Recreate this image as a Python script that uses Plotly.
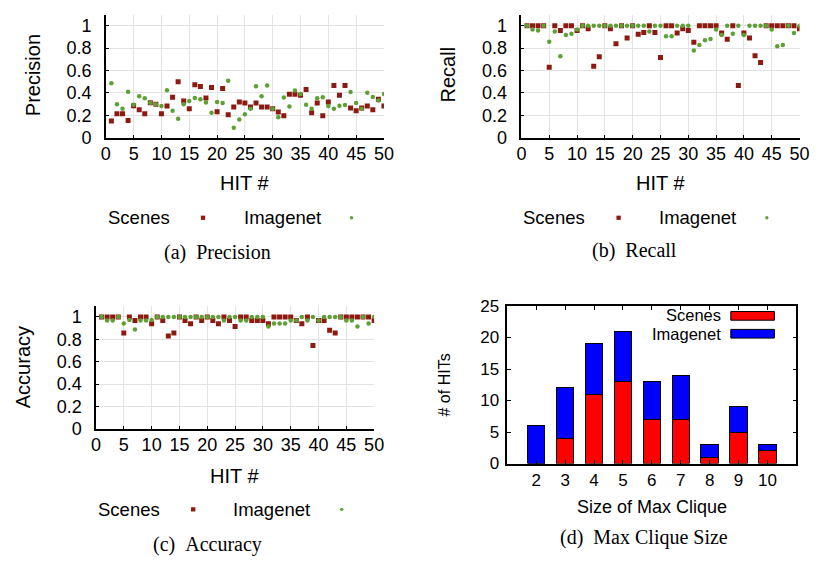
import plotly.graph_objects as go

W, H = 822, 567

hit = list(range(1, 51))

prec_scenes = [0.15, 0.215, 0.215, 0.155, 0.287, 0.25, 0.215, 0.313, 0.30, 0.215,
               0.285, 0.362, 0.50, 0.328, 0.259, 0.474, 0.457, 0.356, 0.448, 0.233,
               0.44, 0.207, 0.276, 0.319, 0.31, 0.276, 0.31, 0.276, 0.276, 0.259,
               0.23, 0.198, 0.388, 0.388, 0.379, 0.431, 0.224, 0.31, 0.198, 0.319,
               0.466, 0.379, 0.466, 0.267, 0.241, 0.267, 0.285, 0.25, 0.345, 0.285]
prec_imagenet = [0.486, 0.30, 0.259, 0.411, 0.296, 0.371, 0.353, 0.313, 0.30, 0.285,
                 0.425, 0.241, 0.17, 0.30, 0.328, 0.356, 0.345, 0.316, 0.224, 0.319,
                 0.31, 0.509, 0.089, 0.164, 0.21, 0.259, 0.46, 0.371, 0.466, 0.259,
                 0.184, 0.359, 0.279, 0.422, 0.39, 0.296, 0.259, 0.353, 0.362, 0.285,
                 0.259, 0.287, 0.293, 0.408, 0.31, 0.259, 0.402, 0.365, 0.333, 0.39]

rec_scenes = [1, 1, 1, 1, 0.629, 1, 0.957, 1, 1, 0.957,
              1, 0.974, 0.638, 0.724, 1, 0.974, 0.839, 1, 0.891, 1,
              0.925, 0.94, 1, 0.94, 0.716, 1, 1, 0.934, 0.974, 0.957,
              0.853, 1, 1, 1, 1, 0.934, 0.879, 1, 0.466, 0.934,
              0.891, 0.733, 0.672, 1, 1, 1, 1, 1, 1, 0.974]
rec_imagenet = [1, 0.966, 0.957, 1, 0.856, 0.948, 0.727, 0.917, 0.928, 0.966,
                1, 1, 1, 1, 1, 1, 1, 1, 1, 1,
                1, 1, 0.948, 1, 1, 0.905, 0.905, 1, 1, 1,
                0.779, 0.828, 0.871, 0.882, 0.966, 0.917, 1, 0.928, 1, 0.917,
                1, 1, 1, 1, 0.966, 0.816, 0.828, 1, 0.934, 1]

acc_scenes = [1, 1, 1, 1, 0.856, 1, 0.968, 1, 1, 0.94,
              1, 0.968, 0.83, 0.856, 1, 0.968, 0.94, 1, 0.968, 1,
              0.968, 0.94, 1, 0.968, 0.914, 1, 1, 0.968, 0.968, 0.968,
              0.94, 1, 1, 1, 1, 0.968, 0.94, 1, 0.744, 0.968,
              0.968, 0.882, 0.856, 1, 1, 1, 1, 1, 1, 0.968]
acc_imagenet = [1, 0.968, 0.968, 1, 0.942, 0.974, 0.888, 0.968, 0.968, 0.974,
                1, 1, 1, 1, 1, 1, 1, 1, 1, 1,
                1, 1, 0.968, 1, 1, 0.968, 0.968, 1, 1, 1,
                0.914, 0.942, 0.942, 0.942, 0.968, 0.968, 1, 0.968, 1, 0.968,
                1, 1, 1, 1, 0.968, 0.968, 0.914, 1, 0.942, 1]

clique_size = [2, 3, 4, 5, 6, 7, 8, 9, 10]
clique_scenes = [0, 4, 11, 13, 7, 7, 1, 5, 2]
clique_imagenet = [6, 8, 8, 8, 6, 7, 2, 4, 1]

x_ticks = [0, 5, 10, 15, 20, 25, 30, 35, 40, 45, 50]
y_ticks = [0, 0.2, 0.4, 0.6, 0.8, 1]
y_ticklabels = ["0", "0.2", "0.4", "0.6", "0.8", "1"]
bar_yticks = [0, 5, 10, 15, 20, 25]

RED = "#8c1a10"
GREEN = "#5ea036"
SANS = "Liberation Sans, Arial, sans-serif"
SERIF = "Liberation Serif, Times New Roman, serif"


def px(x):
    return x / W


def py(y):
    return 1 - y / H


fig = go.Figure()

panels = [
    ("", prec_scenes, prec_imagenet),
    ("2", rec_scenes, rec_imagenet),
    ("3", acc_scenes, acc_imagenet),
]
for sfx, s_vals, i_vals in panels:
    fig.add_trace(go.Scatter(x=hit, y=s_vals, mode="markers", name="Scenes",
                             marker=dict(symbol="square", size=5, color=RED),
                             xaxis="x" + sfx, yaxis="y" + sfx, showlegend=False))
    fig.add_trace(go.Scatter(x=hit, y=i_vals, mode="markers", name="Imagenet",
                             marker=dict(symbol="circle", size=4.5, color=GREEN),
                             xaxis="x" + sfx, yaxis="y" + sfx, showlegend=False))

fig.add_trace(go.Bar(x=clique_size, y=clique_scenes, name="Scenes", width=0.6,
                     marker=dict(color="#ff0000", line=dict(color="black", width=1)),
                     xaxis="x4", yaxis="y4", showlegend=False))
fig.add_trace(go.Bar(x=clique_size, y=clique_imagenet, name="Imagenet", width=0.6,
                     marker=dict(color="#0000ff", line=dict(color="black", width=1)),
                     xaxis="x4", yaxis="y4", showlegend=False))

tickfont = dict(family=SANS, size=18, color="black")


def sc_xaxis(dom, anchor):
    return dict(domain=dom, anchor=anchor, range=[0, 50], tickvals=x_ticks,
                showgrid=True, gridcolor="#e3e3e3", gridwidth=1,
                showline=True, linecolor="black", linewidth=1.5,
                ticks="inside", ticklen=3, tickcolor="black",
                tickfont=tickfont, ticklabelstandoff=-1, zeroline=False)


def sc_yaxis(dom, anchor):
    return dict(domain=dom, anchor=anchor, range=[0, 1.1], tickvals=y_ticks,
                ticktext=y_ticklabels,
                showgrid=True, gridcolor="#e3e3e3", gridwidth=1,
                showline=True, linecolor="black", linewidth=1.5,
                ticks="inside", ticklen=3, tickcolor="black",
                tickfont=tickfont, ticklabelstandoff=9, zeroline=False)


dom_a_x = [px(102.7), px(386)]
dom_b_x = [px(526), px(809.3)]
dom_c_x = [px(92.7), px(376)]
dom_ab_y = [py(133.3), py(5.7)]
dom_c_y = [py(434.3), py(307.1)]
dom_d_x = [px(511.7), px(806)]
dom_d_y = [py(470.3), py(307.3)]

fig.update_layout(
    width=W, height=H,
    margin=dict(l=0, r=0, t=0, b=0),
    paper_bgcolor="white", plot_bgcolor="white",
    barmode="stack", bargap=0.4,
    xaxis=sc_xaxis(dom_a_x, "y"), yaxis=sc_yaxis(dom_ab_y, "x"),
    xaxis2=sc_xaxis(dom_b_x, "y2"), yaxis2=sc_yaxis(dom_ab_y, "x2"),
    xaxis3=sc_xaxis(dom_c_x, "y3"), yaxis3=sc_yaxis(dom_c_y, "x3"),
    xaxis4=dict(domain=dom_d_x, anchor="y4", range=[1, 11], tickvals=clique_size,
                showgrid=False, showline=True, mirror="ticks", linecolor="black",
                linewidth=1.5, ticks="inside", ticklen=4, tickcolor="black",
                tickfont=dict(family=SANS, size=17, color="black"),
                ticklabelstandoff=0, zeroline=False),
    yaxis4=dict(domain=dom_d_y, anchor="x4", range=[0, 25], tickvals=bar_yticks,
                showgrid=False, showline=True, mirror="ticks", linecolor="black",
                linewidth=1.5, ticks="inside", ticklen=4, tickcolor="black",
                tickfont=dict(family=SANS, size=17, color="black"),
                ticklabelstandoff=3, zeroline=False),
)

annotations = []


def text(x, y, s, size, family=SANS, xanchor="center", textangle=0):
    annotations.append(dict(x=px(x), y=py(y), xref="paper", yref="paper", text=s,
                            showarrow=False, xanchor=xanchor, yanchor="middle",
                            textangle=textangle, borderpad=0,
                            font=dict(family=family, size=size, color="black")))


# axis titles
text(28, 68, "Precision", 20, textangle=-90)
text(451, 68, "Recall", 20, textangle=-90)
text(18, 371, "Accuracy", 20, textangle=-90)
text(447.7, 389, "# of HITs", 16, textangle=-90)
text(244, 180, "HIT #", 20)
text(668, 180, "HIT #", 20)
text(234, 483, "HIT #", 20)
text(659, 515, "Size of Max Clique", 18)

# captions
text(216.5, 252, "(a)&nbsp;&nbsp;Precision", 20, family=SERIF)
text(641, 250, "(b)&nbsp;&nbsp;Recall", 20, family=SERIF)
text(206, 554, "(c)&nbsp;&nbsp;Accuracy", 20, family=SERIF)
text(651, 547, "(d)&nbsp;&nbsp;Max Clique Size", 20, family=SERIF)

shapes = []


def sc_legend(x_scenes, x_sq, x_img, x_dot, y):
    text(x_scenes, y, "Scenes", 18.5, xanchor="left")
    text(x_img, y, "Imagenet", 18.5, xanchor="left")
    shapes.append(dict(type="rect", xref="paper", yref="paper",
                       x0=px(x_sq - 2.2), x1=px(x_sq + 2.2), y0=py(y + 2.2), y1=py(y - 2.2),
                       fillcolor=RED, line=dict(width=0)))
    shapes.append(dict(type="circle", xref="paper", yref="paper",
                       x0=px(x_dot - 1.7), x1=px(x_dot + 1.7), y0=py(y + 1.7), y1=py(y - 1.7),
                       fillcolor=GREEN, line=dict(width=0)))


sc_legend(104, 201.7, 242, 353, 216)
sc_legend(527, 625, 665, 776, 216)
sc_legend(94, 191.7, 231, 343, 517.7)

# bar legend
text(730, 317, "Scenes", 16.5, xanchor="right")
text(730, 336.5, "Imagenet", 16.5, xanchor="right")
for yc, col in [(317.5, "#ff0000"), (336, "#0000ff")]:
    shapes.append(dict(type="rect", xref="paper", yref="paper",
                       x0=px(739.3), x1=px(783.7), y0=py(yc + 4.5), y1=py(yc - 4.5),
                       fillcolor=col, line=dict(color="black", width=1)))

fig.update_layout(annotations=annotations, shapes=shapes)

fig.write_html("out.html")
